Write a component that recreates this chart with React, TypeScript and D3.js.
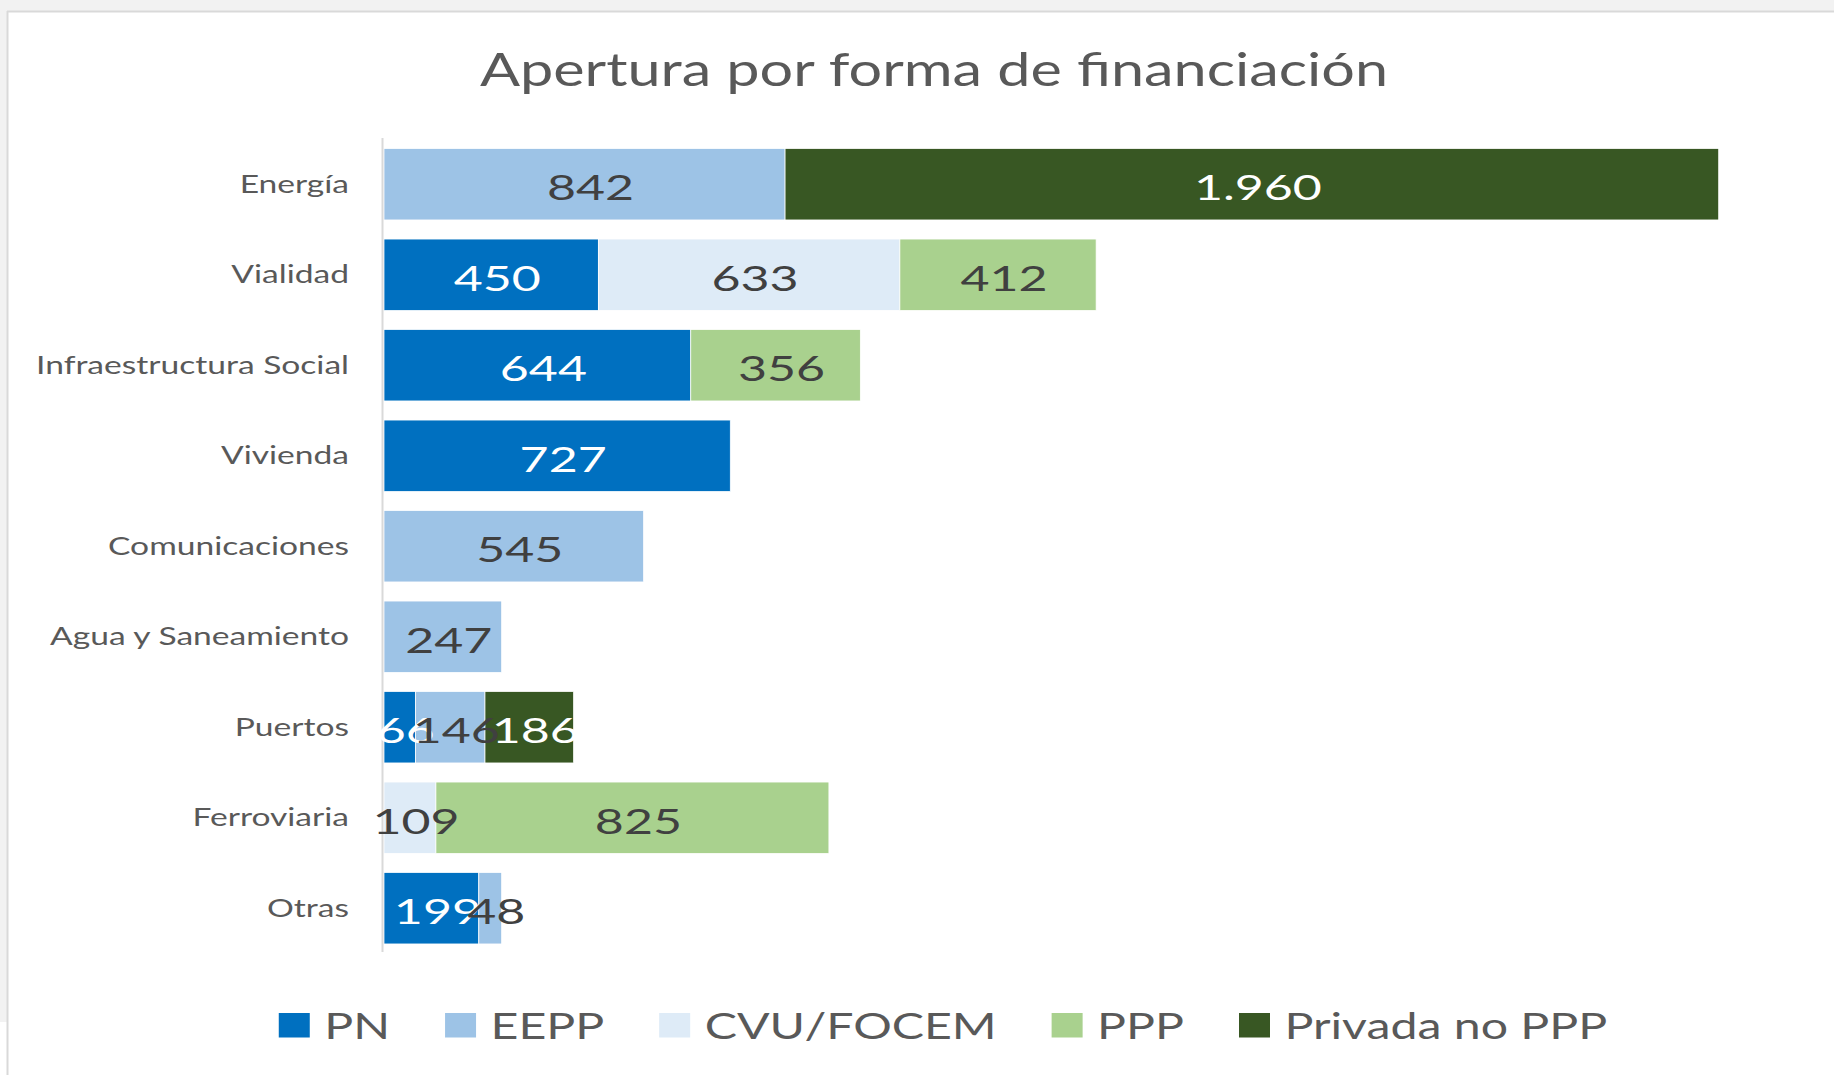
import React, { useLayoutEffect, useRef, useState } from "react";
import * as d3 from "d3";

const categories = [
  "Energía",
  "Vialidad",
  "Infraestructura Social",
  "Vivienda",
  "Comunicaciones",
  "Agua y Saneamiento",
  "Puertos",
  "Ferroviaria",
  "Otras",
];
const seriesNames = ["PN", "EEPP", "CVU/FOCEM", "PPP", "Privada no PPP"];
const pn = [0, 450, 644, 727, 0, 0, 66, 0, 199];
const eepp = [842, 0, 0, 0, 545, 247, 146, 0, 48];
const cvu = [0, 633, 0, 0, 0, 0, 0, 109, 0];
const ppp = [0, 412, 356, 0, 0, 0, 0, 825, 0];
const privada = [1960, 0, 0, 0, 0, 0, 186, 0, 0];
const seriesValues = [pn, eepp, cvu, ppp, privada];
const seriesColors = ["#0070C0", "#9DC3E6", "#DEEBF7", "#A9D18E", "#385723"];
const labelColors = ["#ffffff", "#404040", "#404040", "#404040", "#ffffff"];
const title = "Apertura por forma de financiación";
const xMax = 3000;

const W = 1834;
const H = 1075;
const FONT = "Lato, 'Open Sans', sans-serif";

const locale = d3.formatLocale({
  decimal: ",",
  thousands: ".",
  grouping: [3],
  currency: ["", "€"],
});
const fmt = locale.format(",d");

export default function App() {
  const rows = categories.map((c, i) => {
    const o: any = { cat: c };
    seriesNames.forEach((s, k) => (o[s] = seriesValues[k][i]));
    return o;
  });
  const stacked = d3.stack<any>().keys(seriesNames)(rows);

  const x = d3.scaleLinear().domain([0, xMax]).range([384, 1813]);
  const y = d3
    .scaleBand<string>()
    .domain(categories)
    .range([139, 953.5])
    .paddingInner(0.211)
    .paddingOuter(0.1055);

  const legendRefs = useRef<(SVGTextElement | null)[]>([]);
  const [legendW, setLegendW] = useState<number[]>(seriesNames.map(() => 80));
  const LSX = 1.34;
  useLayoutEffect(() => {
    const ws = legendRefs.current.map((t) => (t ? t.getComputedTextLength() * LSX : 80));
    setLegendW(ws);
  }, []);

  const sw = 31;
  const swGap = 14.5;
  const itemGap = 55;
  const totalLegend =
    legendW.reduce((a, b) => a + b, 0) + seriesNames.length * (sw + swGap) + (seriesNames.length - 1) * itemGap;
  let lx = 943 - totalLegend / 2;
  const legendX: number[] = [];
  legendW.forEach((w) => {
    legendX.push(lx);
    lx += sw + swGap + w + itemGap;
  });

  const VSX = 1.43;
  const CSX = 1.37;
  const labelShift = 6;

  return (
    <svg
      width={W}
      height={H}
      style={{ position: "absolute", left: 0, top: 0, display: "block" }}
      fontFamily={FONT}
    >
      <rect x={0} y={0} width={W} height={H} fill="#ffffff" />
      <rect x={0} y={0} width={W} height={11} fill="#f2f2f2" />
      <rect x={0} y={0} width={7} height={1022} fill="#f2f2f2" />
      <line x1={7} x2={W} y1={11.5} y2={11.5} stroke="#d9d9d9" strokeWidth={2} />
      <line x1={7.5} x2={7.5} y1={11} y2={H} stroke="#d9d9d9" strokeWidth={2} />

      <text
        x={934}
        y={86}
        textAnchor="middle"
        fontSize={46}
        fill="#595959"
        textLength={908}
        lengthAdjust="spacingAndGlyphs"
      >
        {title}
      </text>

      {stacked.map((layer, k) => (
        <g key={layer.key}>
          {layer.map((d, i) => {
            const v = d[1] - d[0];
            if (v <= 0) return null;
            const yy = y(categories[i])!;
            return (
              <rect
                key={i}
                x={x(d[0])}
                y={yy}
                width={x(d[1]) - x(d[0])}
                height={y.bandwidth()}
                fill={seriesColors[k]}
                stroke="#ffffff"
                strokeWidth={0.75}
              />
            );
          })}
        </g>
      ))}

      <line x1={382.5} x2={382.5} y1={138} y2={952} stroke="#d9d9d9" strokeWidth={2} />

      {categories.map((c) => {
        const cy = y(c)! + y.bandwidth() / 2;
        return (
          <text
            key={c}
            transform={`translate(349,${cy + 8.5}) scale(${CSX},1)`}
            textAnchor="end"
            fontSize={24.5}
            fill="#595959"
          >
            {c}
          </text>
        );
      })}

      {stacked.map((layer, k) => (
        <g key={"l" + layer.key}>
          {layer.map((d, i) => {
            const v = d[1] - d[0];
            if (v <= 0) return null;
            const cx = (x(d[0]) + x(d[1])) / 2 + labelShift;
            const cy = y(categories[i])! + y.bandwidth() / 2;
            return (
              <text
                key={i}
                transform={`translate(${cx},${cy + 16}) scale(${VSX},1)`}
                textAnchor="middle"
                fontSize={35}
                fill={labelColors[k]}
              >
                {fmt(v)}
              </text>
            );
          })}
        </g>
      ))}

      {seriesNames.map((s, k) => (
        <g key={"leg" + s}>
          <rect x={legendX[k]} y={1013} width={sw} height={24.5} fill={seriesColors[k]} />
          <text
            ref={(el) => (legendRefs.current[k] = el)}
            transform={`translate(${legendX[k] + sw + swGap},1039) scale(${LSX},1)`}
            fontSize={36}
            fill="#595959"
          >
            {s}
          </text>
        </g>
      ))}
    </svg>
  );
}
